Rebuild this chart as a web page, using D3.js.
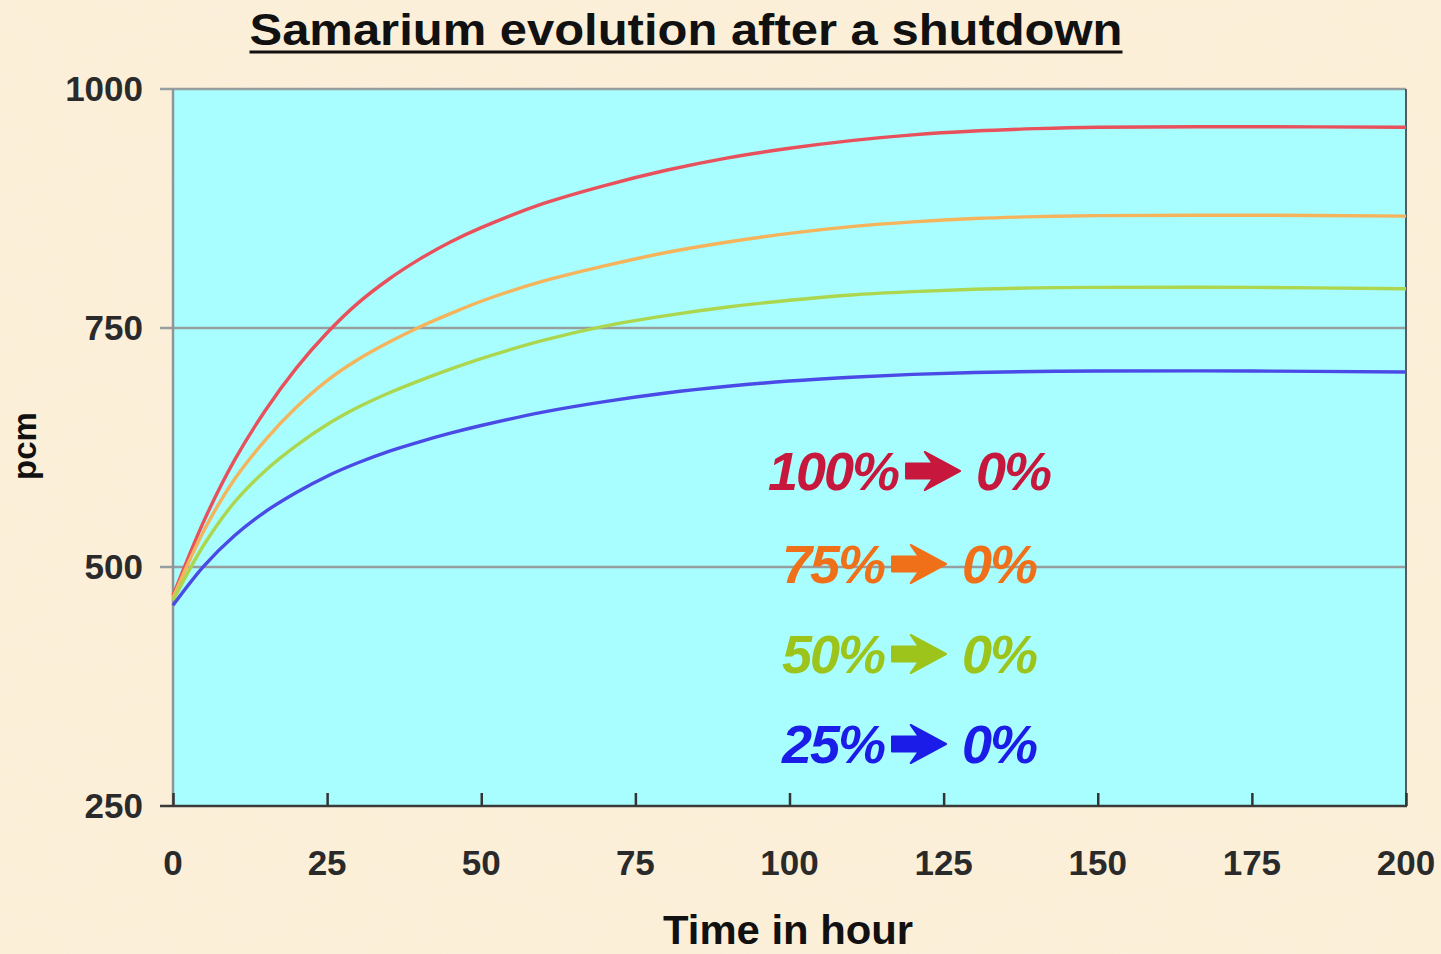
<!DOCTYPE html>
<html>
<head>
<meta charset="utf-8">
<script src="https://cdn.jsdelivr.net/npm/d3@7"></script>
<style>
  html, body { margin: 0; padding: 0; background: #fbecd4; }
  svg { display: block; }
</style>
</head>
<body>
<svg id="chart" width="1441" height="954"></svg>
<script>
// Samarium reactivity (pcm) after shutdown from different power levels
const hours = [0, 5, 10, 15, 20, 25, 30, 35, 40, 45, 50, 60, 70, 80, 90, 100, 110, 120, 130, 140, 150, 175, 200];
const sm100 = [470, 548, 612, 664, 708, 745, 776, 801, 822, 840, 855, 880, 899, 915, 928, 938, 946, 952, 956, 958.5, 960, 960.5, 960];
const sm75  = [468, 538, 592, 633, 667, 695, 717, 735, 751, 765, 778, 799, 815, 829, 840, 849, 856, 861, 864.5, 866.5, 867.5, 868, 867];
const sm50  = [465, 523, 568, 601, 627, 649, 667, 682, 695, 707, 718, 737, 752, 763, 772, 779, 784.5, 788, 790.5, 792, 792.5, 792.5, 791];
const sm25  = [460, 501, 533, 558, 578, 595, 609, 621, 631, 640, 648, 662, 673, 682, 689, 694.5, 698.5, 701.5, 703.5, 704.5, 705, 705, 704];

const seriesNames = ["100%", "75%", "50%", "25%"];
const lineColors  = ["#e8505c", "#f5b35c", "#abd64e", "#4a4ae6"];
const labelColors = ["#c8173c", "#f0701a", "#9cc41a", "#1c1ce8"];
const xTicks = [0, 25, 50, 75, 100, 125, 150, 175, 200];
const yTicks = [250, 500, 750, 1000];

const svg = d3.select("#chart");
const W = 1441, H = 954;
const m = { left: 173, right: 1406, top: 89, bottom: 806 };
const FONT = "Liberation Sans, Arial, sans-serif";

// parchment backdrop with a soft mottled texture
const defs = svg.append("defs");
const f = defs.append("filter").attr("id", "paper").attr("x", 0).attr("y", 0).attr("width", "100%").attr("height", "100%");
f.append("feTurbulence").attr("type", "fractalNoise").attr("baseFrequency", "0.018 0.03").attr("numOctaves", 4).attr("seed", 7).attr("result", "n");
f.append("feColorMatrix").attr("in", "n").attr("type", "matrix")
  .attr("values", "0 0 0 0 0.95  0 0 0 0 0.86  0 0 0 0 0.72  0 0 0 -2 1.15");
svg.append("rect").attr("width", W).attr("height", H).attr("fill", "#fcefd8");
svg.append("rect").attr("width", W).attr("height", H).attr("filter", "url(#paper)").attr("opacity", 0.6);

const x = d3.scaleLinear().domain([0, 200]).range([m.left, m.right]);
const y = d3.scaleLinear().domain([250, 1000]).range([m.bottom, m.top]);

// plot area
svg.append("rect")
  .attr("x", m.left).attr("y", m.top)
  .attr("width", m.right - m.left).attr("height", m.bottom - m.top)
  .attr("fill", "#a8fefe");

// horizontal gridlines (with outward tick stubs)
svg.append("g").selectAll("line").data(yTicks.filter(d => d > 250)).join("line")
  .attr("x1", m.left - 13).attr("x2", m.right)
  .attr("y1", d => y(d)).attr("y2", d => y(d))
  .attr("stroke", "#979ea0").attr("stroke-width", 2.5);

// left axis line
svg.append("line")
  .attr("x1", m.left).attr("x2", m.left).attr("y1", m.top).attr("y2", m.bottom)
  .attr("stroke", "#8f9596").attr("stroke-width", 2.5);
// right border
svg.append("line")
  .attr("x1", m.right).attr("x2", m.right).attr("y1", m.top).attr("y2", m.bottom)
  .attr("stroke", "#555b5c").attr("stroke-width", 2);

// bottom axis with inward ticks
const xAxis = d3.axisBottom(x).tickValues(xTicks).tickSize(-13).tickFormat("");
const gx = svg.append("g").attr("transform", `translate(0,${m.bottom})`).call(xAxis);
gx.select(".domain").remove();
gx.selectAll(".tick line").attr("stroke", "#333").attr("stroke-width", 2.5);
svg.append("line")
  .attr("x1", m.left - 13).attr("x2", m.right + 1).attr("y1", m.bottom).attr("y2", m.bottom)
  .attr("stroke", "#3a3a3a").attr("stroke-width", 2.5);

// tick labels
svg.append("g").selectAll("text").data(xTicks).join("text")
  .attr("x", d => x(d)).attr("y", 875)
  .attr("text-anchor", "middle")
  .attr("font-family", FONT)
  .attr("font-weight", "bold").attr("font-size", 35)
  .attr("fill", "#2a2a2a")
  .text(d => d);

svg.append("g").selectAll("text").data(yTicks).join("text")
  .attr("x", 143).attr("y", d => y(d) + 12)
  .attr("text-anchor", "end")
  .attr("font-family", FONT)
  .attr("font-weight", "bold").attr("font-size", 35)
  .attr("fill", "#2a2a2a")
  .text(d => d);

// curves
const series = [sm100, sm75, sm50, sm25];
const line = d3.line()
  .x((d, i) => x(hours[i]))
  .y(d => y(d))
  .curve(d3.curveCatmullRom.alpha(0.5));

svg.append("g").selectAll("path").data(series).join("path")
  .attr("d", d => line(d))
  .attr("fill", "none")
  .attr("stroke", (d, i) => lineColors[i])
  .attr("stroke-width", 3.4);

// title
svg.append("text")
  .attr("x", 686).attr("y", 45)
  .attr("text-anchor", "middle")
  .attr("font-family", FONT)
  .attr("font-weight", "bold").attr("font-size", 45)
  .attr("textLength", 873).attr("lengthAdjust", "spacingAndGlyphs")
  .attr("fill", "#111")
  .text("Samarium evolution after a shutdown");
svg.append("line")
  .attr("x1", 686 - 873 / 2).attr("x2", 686 + 873 / 2)
  .attr("y1", 52).attr("y2", 52)
  .attr("stroke", "#111").attr("stroke-width", 3);

// axis titles
svg.append("text")
  .attr("x", 788).attr("y", 944)
  .attr("text-anchor", "middle")
  .attr("font-family", FONT)
  .attr("font-weight", "bold").attr("font-size", 40)
  .attr("textLength", 250).attr("lengthAdjust", "spacingAndGlyphs")
  .attr("fill", "#111")
  .text("Time in hour");

svg.append("text")
  .attr("transform", "translate(36,446) rotate(-90)")
  .attr("text-anchor", "middle")
  .attr("font-family", FONT)
  .attr("font-weight", "bold").attr("font-size", 33)
  .attr("fill", "#111")
  .text("pcm");

// power-level labels: "N% ➔ 0%"
const rowBaselines = [490, 583, 673, 763];
const centerX = 909;
const arrowW = 54, arrowH = 38, gap = 8;
seriesNames.forEach((name, i) => {
  const g = svg.append("g");
  const mk = (t) => g.append("text")
    .attr("font-family", FONT)
    .attr("font-weight", "bold").attr("font-style", "italic")
    .attr("font-size", 54).attr("letter-spacing", -2)
    .attr("fill", labelColors[i])
    .attr("y", rowBaselines[i])
    .text(t);
  const a = mk(name), b = mk("0%");
  const wa = a.node().getComputedTextLength(), wb = b.node().getComputedTextLength();
  const total = wa + gap + arrowW + gap + 8 + wb;
  const x0 = centerX - total / 2;
  a.attr("x", x0);
  const ax = x0 + wa + gap, ay = rowBaselines[i] - 19;
  const s = arrowH * 0.2, hb = arrowW * 0.42;
  const pts = [
    [0, -s], [hb + 4, -s], [hb - 4, -arrowH / 2], [arrowW, 0],
    [hb - 4, arrowH / 2], [hb + 4, s], [0, s]
  ].map(p => [ax + p[0], ay + p[1]]);
  g.append("path")
    .attr("d", d3.line()(pts) + "Z")
    .attr("fill", labelColors[i])
    .attr("stroke", labelColors[i]).attr("stroke-width", 2).attr("stroke-linejoin", "round");
  b.attr("x", ax + arrowW + gap + 8);
});
</script>
</body>
</html>
